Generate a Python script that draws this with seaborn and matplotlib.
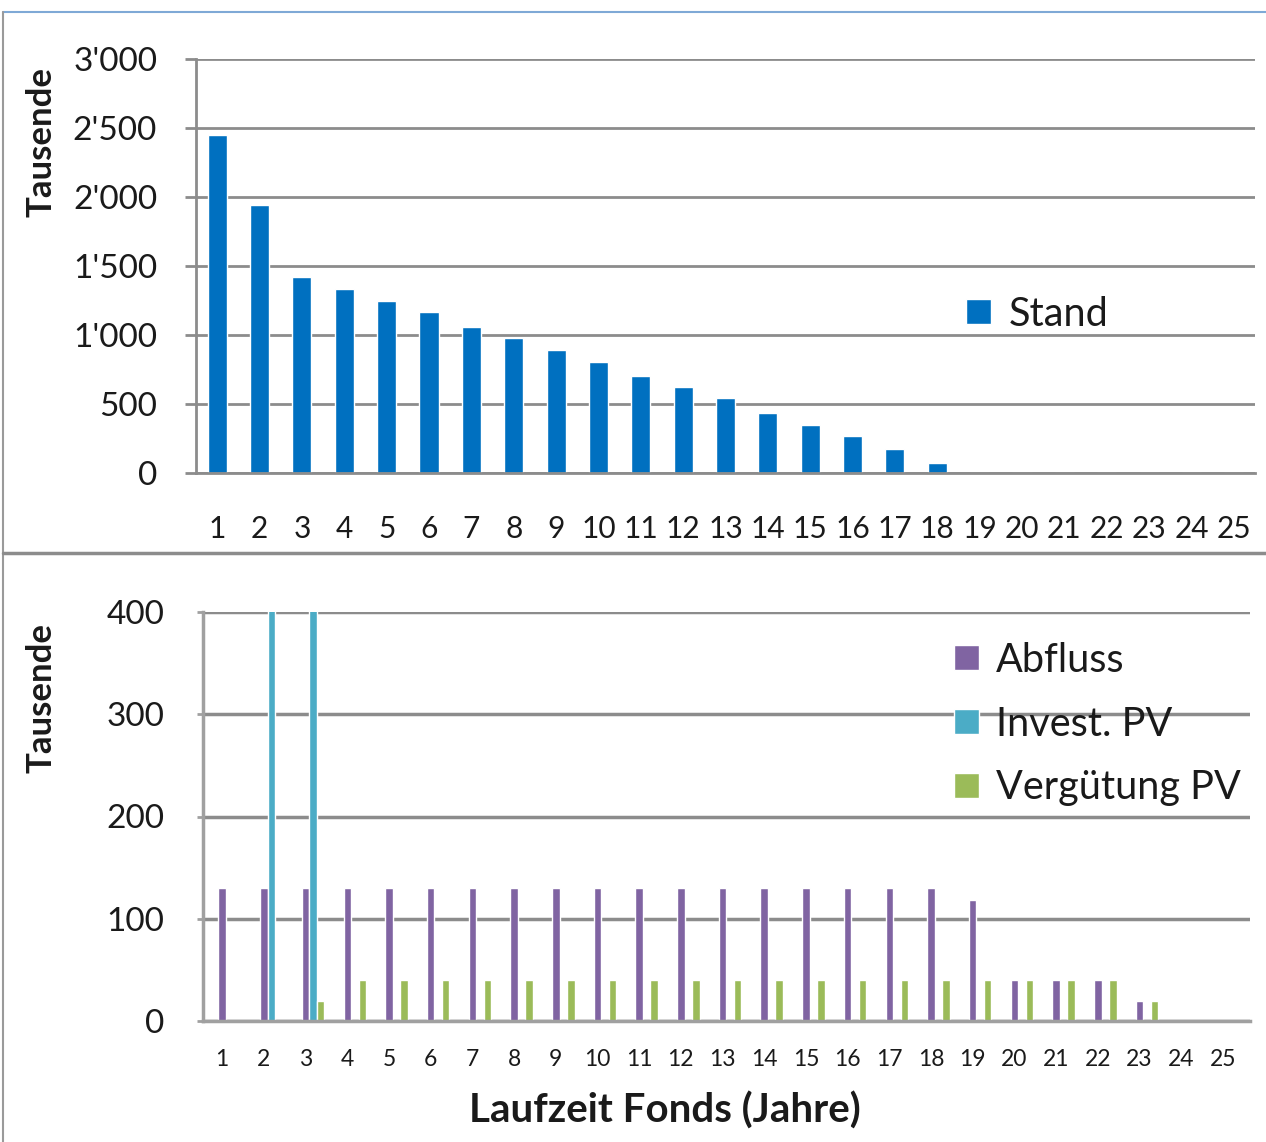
import numpy as np
import pandas as pd
import matplotlib
matplotlib.use("Agg")
import matplotlib.pyplot as plt
import seaborn as sns
from matplotlib.lines import Line2D

# ---------------- data ----------------
years = ["1", "2", "3", "4", "5", "6", "7", "8", "9", "10", "11", "12", "13",
         "14", "15", "16", "17", "18", "19", "20", "21", "22", "23", "24", "25"]
stand = [2450, 1940, 1420, 1335, 1250, 1165, 1060, 975, 890, 805, 705, 625, 540,
         435, 350, 265, 175, 70, 0, 0, 0, 0, 0, 0, 0]
abfluss = [130, 130, 130, 130, 130, 130, 130, 130, 130, 130, 130, 130, 130,
           130, 130, 130, 130, 130, 118, 40, 40, 40, 20, 0, 0]
invest_pv = [0, 450, 450, 0, 0, 0, 0, 0, 0, 0, 0, 0, 0,
             0, 0, 0, 0, 0, 0, 0, 0, 0, 0, 0, 0]
verguetung_pv = [0, 0, 20, 40, 40, 40, 40, 40, 40, 40, 40, 40, 40,
                 40, 40, 40, 40, 40, 40, 40, 40, 40, 20, 0, 0]
series_names = ["Abfluss", "Invest. PV", "Vergütung PV"]
top_yticks = [0, 500, 1000, 1500, 2000, 2500, 3000]
top_yticklabels = ["0", "500", "1'000", "1'500", "2'000", "2'500", "3'000"]
bot_yticks = [0, 100, 200, 300, 400]
bot_yticklabels = ["0", "100", "200", "300", "400"]

# ---------------- style ----------------
sns.set_style("white")
plt.rcParams["font.family"] = ["Lato", "DejaVu Sans"]
GRID = "#8c8c8c"
TXT = "#1a1a1a"

W, H = 1266, 1142
fig = plt.figure(figsize=(W / 100, H / 100), dpi=100)

def fx(px):
    return px / W

def fy(py):
    return 1 - py / H

# ---------------- top panel ----------------
ax1 = fig.add_axes([fx(196), fy(473), fx(1255) - fx(196), fy(59) - fy(473)])
df_top = pd.DataFrame({"Jahr": years, "Stand": stand})
sns.barplot(data=df_top, x="Jahr", y="Stand", color="#0070C0", saturation=1,
            width=0.45, ax=ax1, label="Stand", order=years)
ax1.set_xlim(-0.5, 24.5)
ax1.set_ylim(0, 3000)
ax1.set_yticks(top_yticks, top_yticklabels)
ax1.yaxis.grid(True, color=GRID, lw=2)
ax1.set_axisbelow(True)
for s in ["top", "right"]:
    ax1.spines[s].set_visible(False)
for s in ["left", "bottom"]:
    ax1.spines[s].set_color(GRID)
    ax1.spines[s].set_linewidth(2)
ax1.set_xticks(np.arange(25), years)
ax1.set_xticks(np.arange(-0.5, 25, 1), minor=True)
ax1.tick_params(axis="x", which="major", length=0, pad=30, labelsize=21.5, labelcolor=TXT)
ax1.tick_params(axis="x", which="minor", length=11, width=2, color=GRID, direction="out")
ax1.tick_params(axis="y", length=8, width=2, color=GRID, direction="out", pad=20,
                labelsize=24, labelcolor=TXT, left=True)
ax1.set_xlabel("")
ax1.set_ylabel("Tausende", fontsize=25, fontweight="bold", color=TXT)
ax1.yaxis.set_label_coords(-0.131, 0.80)
leg1 = ax1.legend(loc="center left", bbox_to_anchor=(fx(966), fy(314)),
                  bbox_transform=fig.transFigure, frameon=False, fontsize=28.5,
                  handlelength=0.62, handleheight=0.62, handletextpad=0.45,
                  borderpad=0, borderaxespad=0)
for t in leg1.get_texts():
    t.set_color(TXT)

# ---------------- bottom panel ----------------
ax2 = fig.add_axes([fx(203), fy(1021), fx(1250) - fx(203), fy(612) - fy(1021)])
df_bot = pd.DataFrame({
    "Jahr": years * 3,
    "Serie": [series_names[0]] * 25 + [series_names[1]] * 25 + [series_names[2]] * 25,
    "Wert": abfluss + invest_pv + verguetung_pv,
})
palette = {"Abfluss": "#8064A2", "Invest. PV": "#4BACC6", "Vergütung PV": "#9BBB59"}
sns.barplot(data=df_bot, x="Jahr", y="Wert", hue="Serie", hue_order=series_names,
            order=years, palette=palette, saturation=1, width=0.54, gap=0.0, ax=ax2)
off = 0.18
ax2.set_xlim(-0.64, 24.47)
ax2.set_ylim(0, 400)
ax2.set_yticks(bot_yticks, bot_yticklabels)
ax2.yaxis.grid(True, color=GRID, lw=2.5)
ax2.set_axisbelow(True)
for s in ["top", "right"]:
    ax2.spines[s].set_visible(False)
for s in ["left", "bottom"]:
    ax2.spines[s].set_color("#a0a0a0")
    ax2.spines[s].set_linewidth(2.5)
ax2.set_xticks(np.arange(25) - off, years)
ax2.tick_params(axis="x", length=0, pad=20, labelsize=16.5, labelcolor=TXT)
ax2.tick_params(axis="y", length=4, width=2, color="#a0a0a0", pad=24,
                labelsize=24, labelcolor=TXT, left=True)
ax2.set_ylabel("Tausende", fontsize=25, fontweight="bold", color=TXT)
ax2.yaxis.set_label_coords(-0.1385, 0.79)
ax2.set_xlabel("Laufzeit Fonds (Jahre)", fontsize=29, fontweight="bold", color=TXT)
ax2.xaxis.set_label_coords(0.441, -0.172)
handles, labels = ax2.get_legend_handles_labels()
leg2 = ax2.legend(handles, labels, loc="center left", bbox_to_anchor=(fx(954), fy(724)),
                  bbox_transform=fig.transFigure, frameon=False, fontsize=28.5,
                  handlelength=0.62, handleheight=0.62, handletextpad=0.45,
                  labelspacing=0.68, borderpad=0, borderaxespad=0, title=None)
for t in leg2.get_texts():
    t.set_color(TXT)

# ---------------- frame decorations ----------------
fig.add_artist(Line2D([fx(3), 1], [fy(12), fy(12)], transform=fig.transFigure,
                      color="#7fa9d6", lw=1.5))
fig.add_artist(Line2D([fx(3), fx(3)], [fy(12), 0], transform=fig.transFigure,
                      color="#9a9a9a", lw=1.5))
fig.add_artist(Line2D([fx(3), 1], [fy(553), fy(553)], transform=fig.transFigure,
                      color="#8c8c8c", lw=2.5))

fig.savefig("out.png", dpi=100)
